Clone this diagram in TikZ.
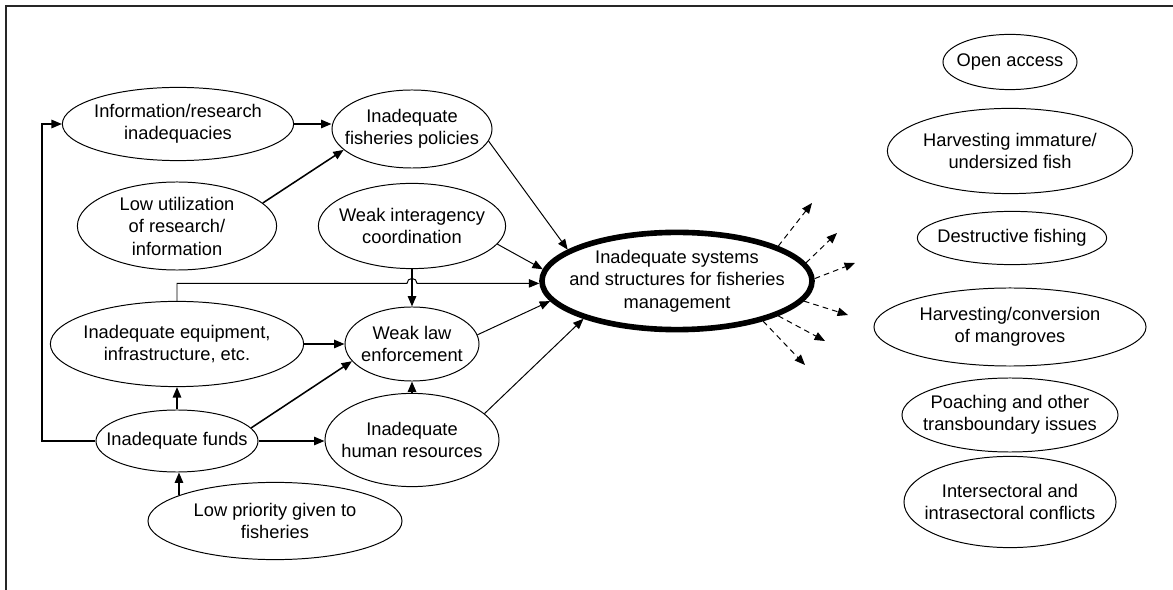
\documentclass[tikz,border=0pt]{standalone}
\usepackage{fontspec}
\setmainfont{Liberation Sans}
\usetikzlibrary{arrows.meta,shapes.geometric,calc}
\tikzset{
	>={Triangle[length=2.6mm,width=2.1mm]},
	bubble/.style={ellipse, draw, line width=0.7pt, inner xsep=-1cm, inner ysep=-0.5cm,
		align=center, font=\fontsize{13}{16}\selectfont},
	size/.style 2 args={minimum width=#1cm, minimum height=#2cm},
	core/.style={bubble, line width=4pt},
	link/.style={->, line width=1.1pt},
	thinlink/.style={->, line width=0.7pt},
	spread/.style={->, line width=0.7pt, dash pattern=on 4pt off 3pt},
	frame/.style={black!85, line width=1.6pt}
}

\begin{document}
\begin{tikzpicture}[x=0.025cm, y=-0.025cm]
	\useasboundingbox (0,0) rectangle (1173,590);
	
	% outer frame (top and left edge only)
	\draw[frame] (6,600) -- (6,6) -- (1180,6);
	
	% causes
	\node[bubble, size={5.78}{1.83}] (info)   at (178,124) {Information/research\\inadequacies};
	\node[bubble, size={4.0}{1.95}]  (pol)    at (412,129) {Inadequate\\fisheries policies};
	\node[bubble, size={4.98}{2.2}]  (lowu)   at (177,226) {Low utilization\\of research/\\information};
	\node[bubble, size={4.68}{2.13}] (inter)  at (412,226) {Weak interagency\\coordination};
	\node[bubble, size={6.33}{2.13}] (equip)  at (177,344) {Inadequate equipment,\\infrastructure, etc.};
	\node[bubble, size={3.35}{1.85}] (law)    at (412,344) {Weak law\\enforcement};
	\node[bubble, size={4.05}{1.55}] (funds)  at (177,441) {Inadequate funds};
	\node[bubble, size={4.35}{2.33}] (human)  at (412,440) {Inadequate\\human resources};
	\node[bubble, size={6.35}{1.93}] (lowp)   at (275,521) {Low priority given to\\fisheries};
	
	% core problem
	\node[core, size={6.75}{2.43}] (main) at (677,281) {Inadequate systems\\and structures for fisheries\\management};
	
	% effects
	\node[bubble, size={3.35}{1.38}] (open)  at (1010,62)  {Open access};
	\node[bubble, size={6.13}{2.13}] (immat) at (1010,151) {Harvesting immature/\\undersized fish};
	\node[bubble, size={4.73}{1.33}] (destr) at (1012,238) {Destructive fishing};
	\node[bubble, size={6.8}{1.95}]  (mangr) at (1010,327) {Harvesting/conversion\\of mangroves};
	\node[bubble, size={5.4}{1.85}]  (poach) at (1010,415) {Poaching and other\\transboundary issues};
	\node[bubble, size={5.3}{2.28}]  (confl) at (1010,502) {Intersectoral and\\intrasectoral conflicts};
	
	% links between causes
	\draw[link] (info.east) -- (info.east -| pol.west);
	\draw[link] (lowu.15.6) -- (pol.197.7);
	\draw[link] (equip) -- (law);
	\draw[link] (funds.north) -- (equip.south);
	\draw[link] (funds.10.4) -- (law.196.3);
	\draw[link] (funds.east) -- (funds.east -| human.west);
	\draw[link] (lowp.165.5) -- (lowp.165.5 |- funds.south);
	\draw[link] (human.north) -- (law.south);
	\draw[link] (inter.south) -- (law.north);
	\draw[link] (funds.west) -| ($(info.west)+(-20,0)$) -- (info.west);
	
	% links into the core problem
	\draw[thinlink] (pol.-9.7) -- (main.164.9);
	\draw[thinlink] (inter.-12.5) -- (main.175);
	\draw[thinlink] (law.8.6) -- (main.189);
	\draw[thinlink] (human.20.3) -- (main.202.9);
	\draw[thinlink] (equip.north) -- (equip.north |- main.181.7)
		-- ($(law.north |- main.181.7)+(-5,0)$) arc[start angle=180, end angle=0, radius=0.125cm]
		-- (main.181.7);
	
	% dashed arrows out of the core problem
	\foreach \a/\ex/\ey [count=\k] in {19.8/812/203, 8.3/837/233, 1.2/855/263,
		351/848/315, 341.9/825/341, 335/805/365}{
		\coordinate (spread\k) at (\ex,\ey);
		\draw[spread] (main.\a) -- (spread\k);
	}
\end{tikzpicture}
\end{document}
